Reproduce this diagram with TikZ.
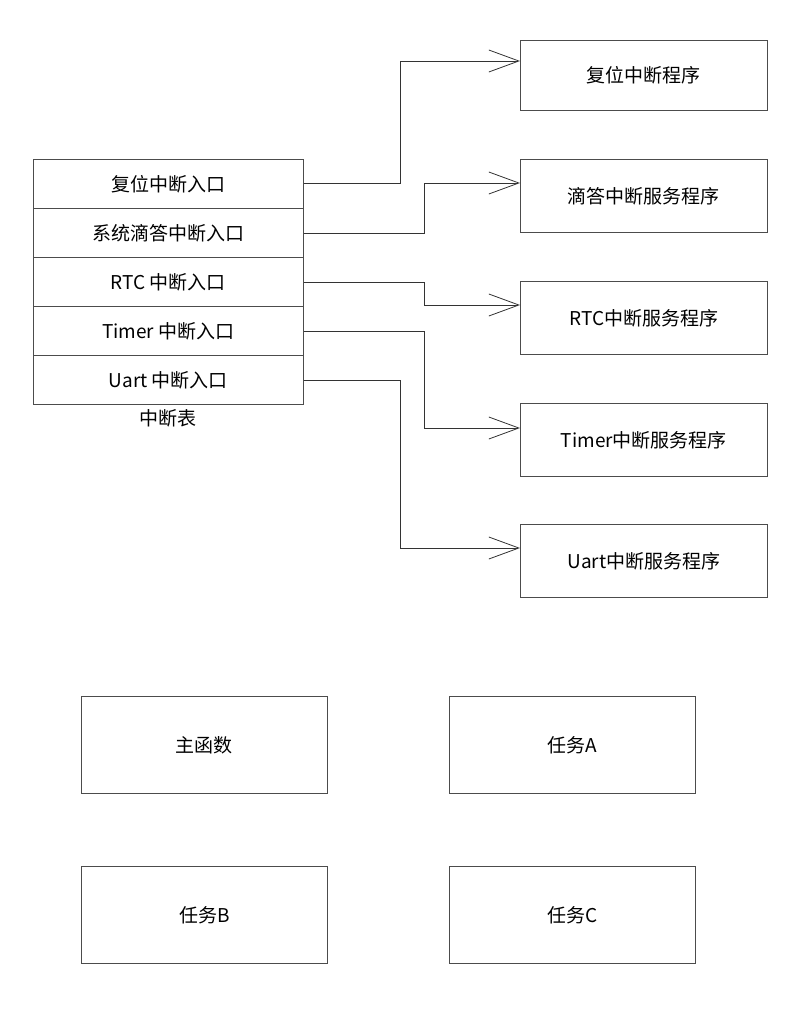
\documentclass[tikz,border=0pt]{standalone}
\usepackage{fontspec}
\setmainfont{Noto Sans CJK SC}
\usetikzlibrary{arrows.meta}
\begin{document}
\begin{tikzpicture}[x=1pt,y=-1pt,
  row/.style={draw=black!70,line width=0.8pt,minimum width=270pt,minimum height=49pt,anchor=north west,inner sep=0},
  rb/.style={draw=black!70,line width=0.8pt,minimum width=247pt,minimum height=73pt,anchor=north west,inner sep=0},
  bb/.style={draw=black!70,line width=0.8pt,minimum width=246pt,minimum height=97pt,anchor=north west,inner sep=0},
  conn/.style={draw=black!80,line width=0.8pt,-{Straight Barb[length=30pt,width=22pt]}},
  font=\fontsize{19}{22}\selectfont]
\useasboundingbox (0,0) rectangle (803,1027);
\node[row] (r1) at (33,159) {复位中断入口};
\node[row] (r2) at (33,208) {系统滴答中断入口};
\node[row] (r3) at (33,257) {RTC 中断入口};
\node[row] (r4) at (33,306) {Timer 中断入口};
\node[row] (r5) at (33,355) {Uart 中断入口};
\node (tl) at (168,418) {中断表};
\node[rb,minimum height=70pt] (s1) at (520,40) {复位中断程序};
\node[rb] (s2) at (520,159) {滴答中断服务程序};
\node[rb] (s3) at (520,281) {RTC中断服务程序};
\node[rb] (s4) at (520,403) {Timer中断服务程序};
\node[rb] (s5) at (520,524) {Uart中断服务程序};
\coordinate (t1) at (520,61);   \coordinate (k1) at (400,61);
\coordinate (t2) at (520,183);  \coordinate (k2) at (424,183);
\coordinate (t3) at (520,305);  \coordinate (k3) at (424,305);
\coordinate (t4) at (520,428);  \coordinate (k4) at (424,428);
\coordinate (t5) at (520,548);  \coordinate (k5) at (400,548);
\draw[conn] (r1.east) -| (k1) -- (t1);
\draw[conn] (r2.east) -| (k2) -- (t2);
\draw[conn] (r3.east) -| (k3) -- (t3);
\draw[conn] (r4.east) -| (k4) -- (t4);
\draw[conn] (r5.east) -| (k5) -- (t5);
\node[bb] (m) at (81,696) {主函数};
\node[bb] (a) at (449,696) {任务A};
\node[bb] (b) at (81,866) {任务B};
\node[bb] (c) at (449,866) {任务C};
\end{tikzpicture}
\end{document}
